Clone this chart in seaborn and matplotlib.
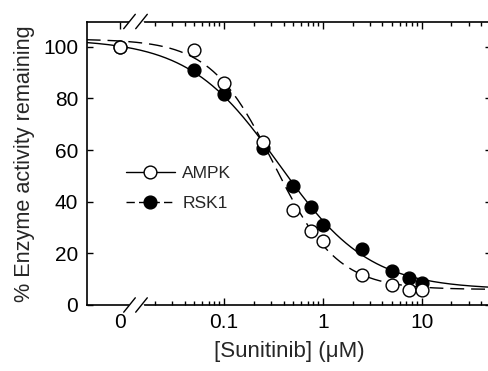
import matplotlib
matplotlib.use("Agg")
import matplotlib.pyplot as plt
from matplotlib.lines import Line2D
from matplotlib.ticker import FixedLocator, NullLocator
import numpy as np
import pandas as pd
import seaborn as sns

# concentrations in uM (0 = no drug, drawn left of the axis break)
conc = [0, 0.05, 0.1, 0.25, 0.5, 0.75, 1.0, 2.5, 5.0, 7.5, 10.0]
ampk = [100, 98.6, 86, 63, 36.8, 28.7, 24.9, 11.6, 7.8, 5.7, 5.7]
rsk1 = [100, 90.9, 81.6, 60.7, 46, 37.8, 31, 21.6, 13, 10.4, 8.4]

# fitted dose-response parameters: top, bottom, IC50, hill
fit_ampk = (103, 6, 0.32, 1.35)
fit_rsk1 = (103, 6, 0.36, 0.95)

ytick_vals = [0, 20, 40, 60, 80, 100]
xtick_labels = ['0', '0.1', '1', '10']

zero_pos = 10 ** -2.052
xmin, xmax = 10 ** -2.389, 10 ** 1.701


def hill(x, p):
    top, bottom, ic50, h = p
    return bottom + (top - bottom) / (1 + (x / ic50) ** h)


sns.set_style("ticks")
plt.rcParams['font.family'] = ['Liberation Sans', 'DejaVu Sans']

fig = plt.figure(figsize=(4.89, 3.71), dpi=100)
ax = fig.add_axes([86.7 / 489, 66 / 371, 404.3 / 489, 283.5 / 371])
ax.set_xscale('log')

xs = np.logspace(np.log10(xmin), np.log10(xmax), 400)
curves = pd.DataFrame({'x': xs, 'ampk': hill(xs, fit_ampk), 'rsk1': hill(xs, fit_rsk1)})
sns.lineplot(data=curves, x='x', y='rsk1', ax=ax, color='black', lw=1.0)
sns.lineplot(data=curves, x='x', y='ampk', ax=ax, color='black', lw=1.0,
             linestyle=(0, (10, 5)))

pts = pd.DataFrame({'conc': conc, 'ampk': ampk, 'rsk1': rsk1})
pts['xpos'] = pts['conc'].where(pts['conc'] > 0, zero_pos)
sns.scatterplot(data=pts, x='xpos', y='rsk1', ax=ax, color='black', edgecolor='black',
                s=85, linewidth=1, zorder=3)
sns.scatterplot(data=pts, x='xpos', y='ampk', ax=ax, color='white', edgecolor='black',
                s=85, linewidth=1, zorder=4)

ax.set_xlim(xmin, xmax)
ax.set_ylim(0, 109.8)
ax.set_xticks([zero_pos, 0.1, 1, 10], xtick_labels)
minors = [k * 10.0 ** e for e in range(-2, 2) for k in range(2, 10)]
minors = [m for m in minors if 0.019 < m < 48]
ax.xaxis.set_minor_locator(FixedLocator(minors))
ax.set_yticks(ytick_vals)
ax.yaxis.set_minor_locator(NullLocator())
t0 = ax.xaxis.get_major_ticks()[0]
t0.tick1line.set_visible(False)
t0.tick2line.set_visible(False)

ax.tick_params(axis='both', which='both', direction='in', top=True, right=True,
               colors='black', labelsize=15)
ax.tick_params(axis='x', which='major', length=5, width=1, pad=6)
ax.tick_params(axis='x', which='minor', length=3, width=1)
ax.tick_params(axis='y', which='major', length=4, width=1, pad=6)
for sp in ax.spines.values():
    sp.set_linewidth(1.2)
    sp.set_color('black')

ax.set_xlabel('[Sunitinib] (\u03bcM)', fontsize=16, labelpad=6)
ax.set_ylabel('% Enzyme activity remaining', fontsize=15.6, labelpad=6)

# axis break marks on bottom and top spines
dx, dy = 5.8 / 404.3, 7.2 / 283.5
xa, xb = (129.5 - 86.7) / 404.3, (141.5 - 86.7) / 404.3
for yy in (0, 1):
    ax.plot([xa, xb], [yy, yy], transform=ax.transAxes, color='white', lw=2.5,
            clip_on=False, zorder=5)
    for xc in (xa, xb):
        ax.plot([xc - dx, xc + dx], [yy - dy, yy + dy], transform=ax.transAxes,
                color='black', lw=1.0, clip_on=False, zorder=6)

handles = [
    Line2D([], [], color='black', lw=1.0, marker='o', markersize=9.2,
           markerfacecolor='white', markeredgecolor='black', label='AMPK'),
    Line2D([], [], color='black', lw=1.0, linestyle=(0, (6, 3)), marker='o', markersize=9.2,
           markerfacecolor='black', markeredgecolor='black', label='RSK1'),
]
ax.legend(handles=handles, loc='upper left', bbox_to_anchor=(0.097, 0.49), frameon=False,
          fontsize=12.5, handlelength=2.8, handletextpad=0.45, labelspacing=0.85,
          borderpad=0, borderaxespad=0)

fig.savefig('out.png', dpi=100)
